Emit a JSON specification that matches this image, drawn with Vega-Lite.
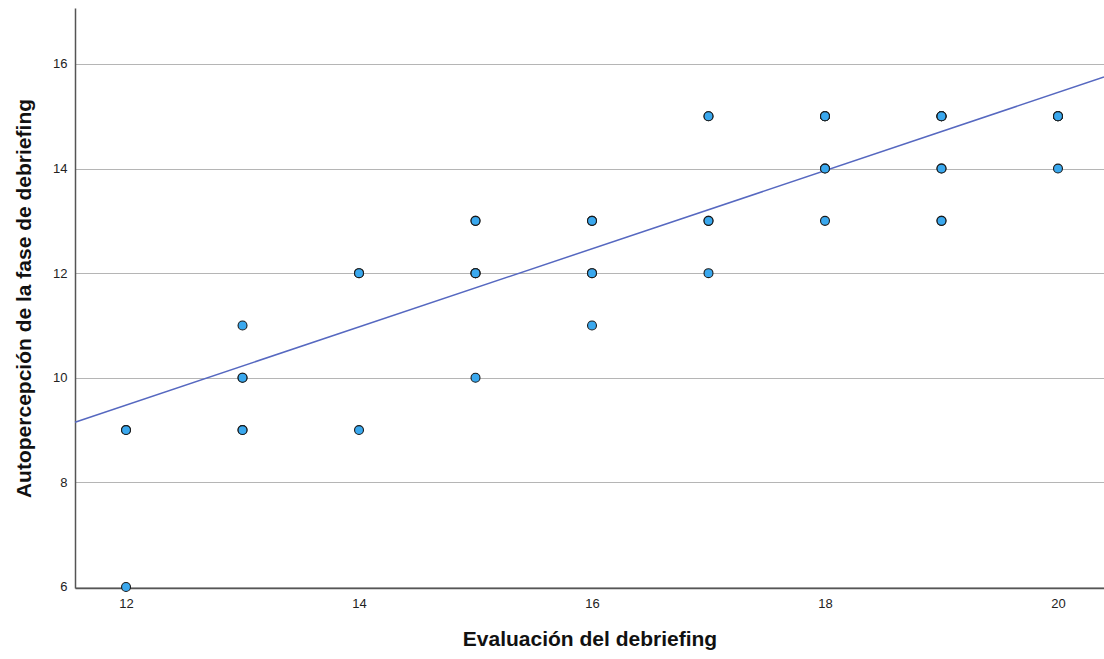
{
  "$schema": "https://vega.github.io/schema/vega-lite/v6.json",
  "autosize": "none",
  "width": 1029,
  "height": 580,
  "padding": {"left": 75, "top": 8, "right": 0, "bottom": 71},
  "background": "white",
  "config": {
    "view": {"stroke": null},
    "font": "Liberation Sans",
    "axis": {"labelFont": "Liberation Sans", "titleFont": "Liberation Sans"}
  },
  "datasets": {
    "pts": [
      {"eval": 12, "auto": 9}, {"eval": 12, "auto": 9}, {"eval": 12, "auto": 6},
      {"eval": 13, "auto": 11}, {"eval": 13, "auto": 10}, {"eval": 13, "auto": 10}, {"eval": 13, "auto": 9}, {"eval": 13, "auto": 9},
      {"eval": 14, "auto": 12}, {"eval": 14, "auto": 12}, {"eval": 14, "auto": 9},
      {"eval": 15, "auto": 13}, {"eval": 15, "auto": 13}, {"eval": 15, "auto": 12}, {"eval": 15, "auto": 12}, {"eval": 15, "auto": 12}, {"eval": 15, "auto": 10},
      {"eval": 16, "auto": 13}, {"eval": 16, "auto": 13}, {"eval": 16, "auto": 12}, {"eval": 16, "auto": 12}, {"eval": 16, "auto": 11},
      {"eval": 17, "auto": 15}, {"eval": 17, "auto": 15}, {"eval": 17, "auto": 13}, {"eval": 17, "auto": 13}, {"eval": 17, "auto": 12},
      {"eval": 18, "auto": 15}, {"eval": 18, "auto": 15}, {"eval": 18, "auto": 15}, {"eval": 18, "auto": 15}, {"eval": 18, "auto": 14}, {"eval": 18, "auto": 14}, {"eval": 18, "auto": 13},
      {"eval": 19, "auto": 15}, {"eval": 19, "auto": 15}, {"eval": 19, "auto": 15}, {"eval": 19, "auto": 15}, {"eval": 19, "auto": 14}, {"eval": 19, "auto": 14}, {"eval": 19, "auto": 13}, {"eval": 19, "auto": 13},
      {"eval": 20, "auto": 15}, {"eval": 20, "auto": 15}, {"eval": 20, "auto": 15}, {"eval": 20, "auto": 15}, {"eval": 20, "auto": 14}
    ],
    "fit": [
      {"eval": 11.562, "auto": 9.15},
      {"eval": 20.395, "auto": 15.75}
    ]
  },
  "layer": [
    {
      "data": {"name": "fit"},
      "mark": {"type": "line", "color": "#5668c0", "strokeWidth": 1.5},
      "encoding": {
        "x": {
          "field": "eval", "type": "quantitative",
          "scale": {"domain": [11.562, 20.395], "nice": false, "zero": false},
          "axis": {
            "title": "Evaluación del debriefing",
            "values": [12, 14, 16, 18, 20],
            "format": "d",
            "grid": false, "ticks": false,
            "domainColor": "#555555", "domainWidth": 1.5,
            "labelFontSize": 13, "labelColor": "#222222", "labelPadding": 9,
            "titleFontSize": 21, "titleFontWeight": "bold", "titleColor": "#111111", "titlePadding": 18
          }
        },
        "y": {
          "field": "auto", "type": "quantitative",
          "scale": {"domain": [5.98, 17.07], "nice": false, "zero": false},
          "axis": {
            "title": "Autopercepción de la fase de debriefing",
            "values": [6, 8, 10, 12, 14, 16],
            "format": "d",
            "grid": true, "gridColor": "#b5b5b5", "gridWidth": 1,
            "ticks": false,
            "domainColor": "#555555", "domainWidth": 1.5,
            "labelFontSize": 13, "labelColor": "#222222", "labelPadding": 8,
            "titleFontSize": 21, "titleFontWeight": "bold", "titleColor": "#111111", "titlePadding": 18
          }
        }
      }
    },
    {
      "data": {"name": "pts"},
      "mark": {"type": "point", "filled": true, "shape": "circle", "size": 80, "fill": "#3aa8ee", "stroke": "#1a1a1a", "strokeWidth": 1.1, "opacity": 1, "fillOpacity": 1, "clip": false},
      "encoding": {
        "x": {"field": "eval", "type": "quantitative"},
        "y": {"field": "auto", "type": "quantitative"}
      }
    }
  ]
}
